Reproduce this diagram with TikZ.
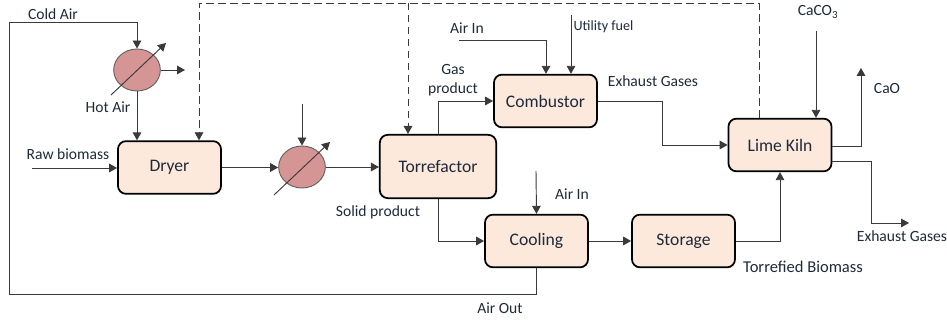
\documentclass[tikz,border=0pt]{standalone}
\usepackage{fontspec}
\setmainfont{Carlito}
\usetikzlibrary{arrows.meta,shapes.geometric}
\definecolor{plblock}{HTML}{FCE9DB}
\definecolor{plred}{HTML}{D69595}
\definecolor{pldark}{HTML}{1E2A3A}
\definecolor{plline}{HTML}{3A3A3A}
\tikzset{
  unit/.style={draw=black,fill=plblock,rounded corners=6pt,line width=1.3pt,align=center,
               minimum width=77.3pt,minimum height=39.5pt,inner sep=2pt,font=\fontsize{13.2}{15}\selectfont,text=pldark},
  hx/.style={draw=plline!80,fill=plred,ellipse,minimum width=35pt,minimum height=31.5pt,inner sep=0pt,line width=.7pt},
  ar/.style={-{Triangle[length=6pt,width=6.5pt]},line width=.7pt,plline},
  arr/.style={-{Triangle[length=6pt,width=6.5pt]},line width=.65pt,dash pattern=on 5.5pt off 3.5pt,plline},
  lab/.style={font=\fontsize{11.7}{14.5}\selectfont,text=pldark,inner sep=0pt,align=center},
}
\begin{document}
\begin{tikzpicture}[x=0.75pt,y=-0.75pt]
  \useasboundingbox (0,0) rectangle (947,323);
  % units
  \node[unit] (dryer) at (169.5,167.5) {Dryer};
  \node[unit,minimum width=87.3pt,minimum height=47.5pt] (torr) at (438,166.5) {Torrefactor};
  \node[unit] (comb) at (545.5,101) {Combustor};
  \node[unit] (cool) at (536.5,241) {Cooling};
  \node[unit] (stor) at (683.5,241) {Storage};
  \node[unit] (kiln) at (780,145) {Lime Kiln};
  \node[hx] (hxa) at (137,70) {};
  \node[hx] (hxb) at (302,167) {};
  % free ends
  \coordinate (rawin) at (32,168);
  \coordinate (hxaout) at (185,70);
  \coordinate (hxain) at (111,95);
  \coordinate (hxatip) at (166,43);
  \coordinate (hxbtop) at (302,104);
  \coordinate (hxbin) at (274,195);
  \coordinate (hxbtip) at (330,142);
  \coordinate (airtop) at (459,40);
  \coordinate (airdown) at (546,40);
  \coordinate (fueltop) at (571,15);
  \coordinate (aircool) at (536,171);
  \coordinate (lime) at (816,31);
  \coordinate (caotip) at (861,68);
  \coordinate (extip) at (909,223);
  \coordinate (dashr) at (759,3);
  \coordinate (dashl) at (199,3);
  \coordinate (dashm) at (408,3);
  % air loop
  \draw[ar] (cool.south) -- ++(0,26) -| (9,22) -| (hxa.north);
  \draw[ar] (hxa.south) -- (hxa.south |- dryer.north);
  \draw[ar] (hxa.east) -- (hxaout);
  \draw[ar] (hxain) -- (hxatip);
  % main line
  \draw[ar] (rawin) -- (rawin -| dryer.west);
  \draw[ar] (dryer.east) -- (dryer.east -| hxb.west);
  \draw[ar] (hxbtop) -- (hxb.north);
  \draw[ar] (hxbin) -- (hxbtip);
  \draw[ar] (hxb.east) -- (hxb.east -| torr.west);
  \draw[ar] (torr.north) |- (comb.west);
  \draw[ar] (torr.south) |- (cool.west);
  \draw[ar] (airtop) -- (airdown) -- (airdown |- comb.north);
  \draw[ar] (fueltop) -- (fueltop |- comb.north);
  \draw[ar] (aircool) -- (cool.north);
  \draw[ar] (comb.east) -- ++(65,0) |- (kiln.west);
  \draw[ar] (cool.east) -- (stor.west);
  \draw[ar] (stor.east) -| (kiln.south);
  \draw[ar] (lime) -- (lime |- kiln.north);
  \draw[ar] ([yshift=-.75pt]kiln.east) -| (caotip);
  \draw[ar] ([yshift=-12pt]kiln.east) -- ++(39,0) |- (extip);
  % dashed return
  \draw[arr] (dashr |- kiln.north) -- (dashr) -- (dashl) -- (dashl |- dryer.north);
  \draw[arr] (dashm) -- (dashm |- torr.north);
  % labels
  \node[lab] (lcold) at (53,14) {Cold Air};
  \node[lab] (lhot) at (108,107) {Hot Air};
  \node[lab] (lraw) at (68,154) {Raw biomass};
  \node[lab] (lgas) at (453,80) {Gas\\product};
  \node[lab] (lsolid) at (378,212) {Solid product};
  \node[lab] (lair) at (467,28) {Air In};
  \node[lab,font=\fontsize{10.6}{12}\selectfont] (lfuel) at (603.5,27) {Utility fuel};
  \node[lab] (lair2) at (572,194) {Air In};
  \node[lab] (lout) at (500,308) {Air Out};
  \node[lab] (lexh) at (653,81) {Exhaust Gases};
  \node[lab] (lcaco) at (818,12) {CaCO\textsubscript{3}};
  \node[lab] (lcao) at (887,89) {CaO};
  \node[lab] (lexb) at (902,236) {Exhaust Gases};
  \node[lab,font=\fontsize{12.4}{14.5}\selectfont] (ltorr) at (803,267) {Torrefied Biomass};
\end{tikzpicture}
\end{document}
